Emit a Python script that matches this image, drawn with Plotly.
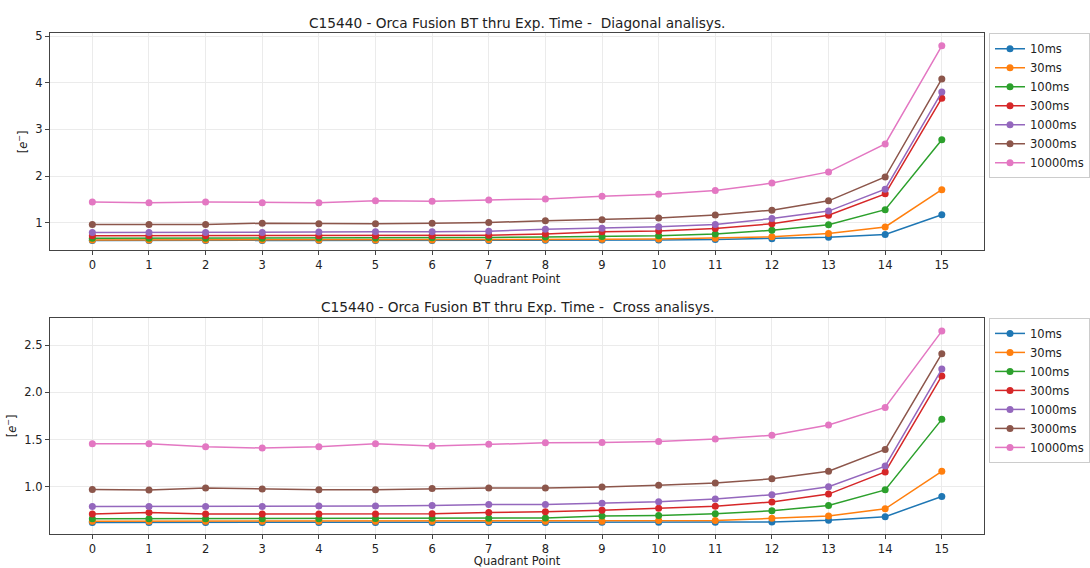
import plotly.graph_objects as go

quadrant_points = list(range(16))
series_names = ["10ms", "30ms", "100ms", "300ms", "1000ms", "3000ms", "10000ms"]
colors = ["#1f77b4", "#ff7f0e", "#2ca02c", "#d62728", "#9467bd", "#8c564b", "#e377c2"]

diag_10 = [0.62, 0.62, 0.62, 0.62, 0.62, 0.62, 0.62, 0.62, 0.625, 0.63, 0.63, 0.64, 0.66, 0.69, 0.75, 1.17]
diag_30 = [0.63, 0.63, 0.63, 0.63, 0.63, 0.63, 0.63, 0.635, 0.64, 0.645, 0.65, 0.67, 0.70, 0.77, 0.91, 1.71]
diag_100 = [0.67, 0.67, 0.67, 0.67, 0.675, 0.675, 0.68, 0.685, 0.695, 0.705, 0.72, 0.76, 0.84, 0.96, 1.28, 2.78]
diag_300 = [0.72, 0.72, 0.72, 0.72, 0.72, 0.72, 0.72, 0.735, 0.76, 0.805, 0.825, 0.875, 0.98, 1.16, 1.62, 3.67]
diag_1000 = [0.79, 0.79, 0.79, 0.79, 0.80, 0.805, 0.81, 0.82, 0.86, 0.885, 0.915, 0.965, 1.09, 1.25, 1.72, 3.80]
diag_3000 = [0.965, 0.965, 0.965, 0.99, 0.98, 0.98, 0.99, 1.005, 1.045, 1.065, 1.10, 1.165, 1.27, 1.47, 1.98, 4.08]
diag_10000 = [1.445, 1.43, 1.445, 1.43, 1.43, 1.47, 1.46, 1.49, 1.51, 1.57, 1.61, 1.69, 1.85, 2.09, 2.69, 4.79]

cross_10 = [0.62, 0.62, 0.62, 0.62, 0.62, 0.62, 0.62, 0.62, 0.62, 0.622, 0.622, 0.622, 0.625, 0.643, 0.682, 0.896]
cross_30 = [0.633, 0.633, 0.633, 0.633, 0.633, 0.633, 0.633, 0.633, 0.633, 0.633, 0.64, 0.64, 0.664, 0.688, 0.765, 1.163]
cross_100 = [0.66, 0.66, 0.66, 0.66, 0.66, 0.662, 0.664, 0.666, 0.668, 0.688, 0.695, 0.713, 0.744, 0.80, 0.966, 1.714]
cross_300 = [0.709, 0.727, 0.709, 0.709, 0.709, 0.71, 0.712, 0.727, 0.734, 0.75, 0.771, 0.792, 0.838, 0.921, 1.156, 2.175]
cross_1000 = [0.789, 0.789, 0.789, 0.789, 0.796, 0.796, 0.80, 0.81, 0.81, 0.823, 0.84, 0.87, 0.914, 1.0, 1.218, 2.247]
cross_3000 = [0.97, 0.965, 0.987, 0.975, 0.967, 0.967, 0.98, 0.987, 0.987, 0.997, 1.015, 1.04, 1.083, 1.163, 1.395, 2.41]
cross_10000 = [1.454, 1.454, 1.423, 1.41, 1.423, 1.454, 1.43, 1.45, 1.465, 1.468, 1.48, 1.505, 1.545, 1.655, 1.84, 2.65]

diag_series = [diag_10, diag_30, diag_100, diag_300, diag_1000, diag_3000, diag_10000]
cross_series = [cross_10, cross_30, cross_100, cross_300, cross_1000, cross_3000, cross_10000]

title_top = "C15440 - Orca Fusion BT thru Exp. Time - \u00a0Diagonal analisys."
title_bottom = "C15440 - Orca Fusion BT thru Exp. Time - \u00a0Cross analisys."
x_label = "Quadrant Point"
y_label = "[<i>e</i><sup>\u2212</sup>]"

W, H = 1090, 568
FONT = "DejaVu Sans, sans-serif"
TXT = "#222222"

fig = go.Figure()
for name, col, ys in zip(series_names, colors, diag_series):
    fig.add_trace(go.Scatter(x=quadrant_points, y=ys, name=name, mode="lines+markers",
                             line=dict(color=col, width=1.5), marker=dict(color=col, size=7),
                             xaxis="x", yaxis="y", legend="legend"))
for name, col, ys in zip(series_names, colors, cross_series):
    fig.add_trace(go.Scatter(x=quadrant_points, y=ys, name=name, mode="lines+markers",
                             line=dict(color=col, width=1.5), marker=dict(color=col, size=7),
                             xaxis="x2", yaxis="y2", legend="legend2"))

x0, x1 = 50 / W, 987 / W
top_dom = [1 - 248.5 / H, 1 - 29.5 / H]
bot_dom = [1 - 534.5 / H, 1 - 316.7 / H]

axis_common = dict(showline=True, linecolor="#444444", linewidth=1, mirror=True,
                   ticks="outside", ticklen=4, tickcolor="#444444",
                   showgrid=True, gridcolor="#ebebeb", gridwidth=1, zeroline=False,
                   tickfont=dict(family=FONT, size=11.5, color=TXT))

fig.update_layout(
    width=W, height=H,
    margin=dict(l=0, r=0, t=0, b=0),
    paper_bgcolor="white", plot_bgcolor="white",
    font=dict(family=FONT, color=TXT),
    showlegend=True,
    xaxis=dict(domain=[x0, x1], anchor="y", range=[-0.75, 15.75], tickvals=quadrant_points,
               title=dict(text=x_label, standoff=3, font=dict(family=FONT, size=11.5, color=TXT)),
               **axis_common),
    yaxis=dict(domain=top_dom, anchor="x", range=[0.41, 5.06], tickvals=[1, 2, 3, 4, 5],
               title=dict(text=y_label, standoff=5, font=dict(family=FONT, size=11.5, color=TXT)),
               **axis_common),
    xaxis2=dict(domain=[x0, x1], anchor="y2", range=[-0.75, 15.75], tickvals=quadrant_points,
                title=dict(text=x_label, standoff=4, font=dict(family=FONT, size=11.5, color=TXT)),
                **axis_common),
    yaxis2=dict(domain=bot_dom, anchor="x2", range=[0.50, 2.79], tickvals=[1.0, 1.5, 2.0, 2.5],
                tickformat=".1f",
                title=dict(text=y_label, standoff=5, font=dict(family=FONT, size=11.5, color=TXT)),
                **axis_common),
    legend=dict(x=992 / W, y=1 - 29.5 / H, xanchor="left", yanchor="top",
                bgcolor="rgba(255,255,255,0.8)", bordercolor="#cccccc", borderwidth=1,
                font=dict(family=FONT, size=11.5, color=TXT), tracegroupgap=0,
                itemwidth=30),
    legend2=dict(x=992 / W, y=1 - 316.7 / H, xanchor="left", yanchor="top",
                 bgcolor="rgba(255,255,255,0.8)", bordercolor="#cccccc", borderwidth=1,
                 font=dict(family=FONT, size=11.5, color=TXT), tracegroupgap=0,
                 itemwidth=30),
    annotations=[
        dict(text=title_top, xref="paper", yref="paper", x=(x0 + x1) / 2, y=1 - 19 / H,
             xanchor="center", yanchor="middle", showarrow=False,
             font=dict(family=FONT, size=13.7, color=TXT)),
        dict(text=title_bottom, xref="paper", yref="paper", x=(x0 + x1) / 2, y=1 - 305.5 / H,
             xanchor="center", yanchor="middle", showarrow=False,
             font=dict(family=FONT, size=13.7, color=TXT)),
    ],
)

fig.write_html("out.html", config={"displayModeBar": False},
               post_script="document.body.style.margin='0';document.body.style.overflow='hidden';")
